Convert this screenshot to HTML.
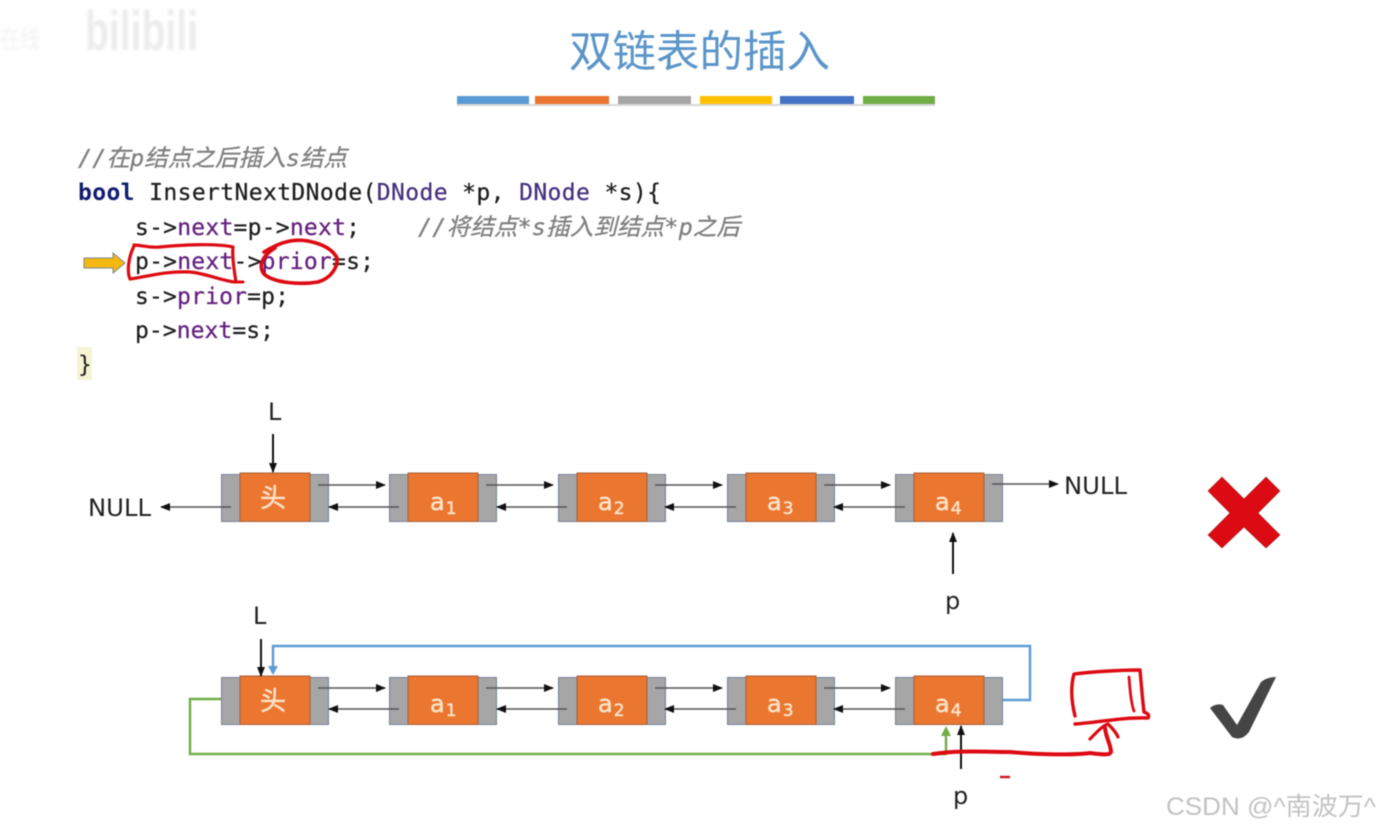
<!DOCTYPE html>
<html><head><meta charset="utf-8"><style>
html,body{margin:0;padding:0;background:#fff;width:1381px;height:828px;overflow:hidden}
svg{display:block;filter:blur(.5px)}
.code{font-family:"DejaVu Sans Mono","Noto Sans CJK SC",monospace;font-size:23px;stroke-width:.25px}
.k{fill:#1d1d1f;stroke:#1d1d1f}.pu{fill:#64207f;stroke:#64207f}.cl{fill:#46307f;stroke:#46307f}
.cm{font-family:"DejaVu Sans Mono","Noto Sans CJK SC",monospace;font-size:23.5px;font-style:italic;fill:#7f7f7f;stroke:#7f7f7f;stroke-width:.3px}
.lb{font-family:"DejaVu Sans","Noto Sans CJK SC",sans-serif;font-size:24px;fill:#222}
.nt{font-family:"DejaVu Sans","Noto Sans CJK SC",sans-serif;fill:#fde3c8;stroke:#fde3c8;stroke-width:.5px}
.red{fill:none;stroke:#dd0a12;stroke-linecap:round;stroke-linejoin:round}
</style></head><body>
<svg width="1381" height="828" viewBox="0 0 1381 828" xmlns="http://www.w3.org/2000/svg">
<defs>
<filter id="wm"><feGaussianBlur stdDeviation="1.2"/></filter>
<marker id="ab" markerWidth="10" markerHeight="8" refX="9" refY="4" orient="auto" markerUnits="userSpaceOnUse"><path d="M0 0L10 4L0 8z" fill="#111"/></marker>
<g id="node">
<rect x="0.5" y="0.5" width="107" height="47" fill="#a6a6a6" stroke="#76829a"/>
<rect x="19" y="-1" width="70" height="48.5" fill="#ea7630" stroke="#a5603a"/>
</g>
</defs>

<!-- watermark -->
<text x="85" y="50" font-family="Liberation Sans,sans-serif" font-weight="bold" font-size="56" fill="#ececec" textLength="113" lengthAdjust="spacingAndGlyphs" filter="url(#wm)">bilibili</text>
<text x="0" y="48" font-family="Liberation Sans,Noto Sans CJK SC,sans-serif" font-size="26" fill="#f2f2f2" textLength="40" lengthAdjust="spacingAndGlyphs" filter="url(#wm)">在线</text>

<!-- title -->
<text x="569" y="67" font-family="Noto Sans CJK SC,sans-serif" font-size="43.5" fill="#5b95c9" textLength="261" lengthAdjust="spacingAndGlyphs">双链表的插入</text>
<g>
<rect x="457" y="96" width="72" height="8" fill="#5b9bd5"/>
<rect x="535" y="96" width="74" height="8" fill="#e8742f"/>
<rect x="618" y="96" width="73" height="8" fill="#a5a5a5"/>
<rect x="700" y="96" width="72" height="8" fill="#ffc000"/>
<rect x="780" y="96" width="74" height="8" fill="#4472c4"/>
<rect x="863" y="96" width="72" height="8" fill="#70ad47"/>
<rect x="457" y="104" width="478" height="2" fill="#d8d8d8"/>
</g>

<!-- code -->
<text class="cm" x="78" y="166" textLength="269" lengthAdjust="spacing">//在p结点之后插入s结点</text>
<text class="code" x="78" y="200" xml:space="preserve" textLength="583" lengthAdjust="spacing"><tspan font-weight="bold" fill="#101c6e">bool</tspan><tspan class="k"> InsertNextDNode(</tspan><tspan class="cl">DNode</tspan><tspan class="k"> *p, </tspan><tspan class="cl">DNode</tspan><tspan class="k"> *s){</tspan></text>
<text class="code" x="135" y="235" textLength="225" lengthAdjust="spacing"><tspan class="k">s-&gt;</tspan><tspan class="pu">next</tspan><tspan class="k">=p-&gt;</tspan><tspan class="pu">next</tspan><tspan class="k">;</tspan></text>
<text class="cm" x="418" y="235" textLength="322" lengthAdjust="spacing">//将结点*s插入到结点*p之后</text>
<text class="code" x="135" y="269" textLength="239" lengthAdjust="spacing"><tspan class="k">p-&gt;</tspan><tspan class="pu">next</tspan><tspan class="k">-&gt;</tspan><tspan class="pu">prior</tspan><tspan class="k">=s;</tspan></text>
<text class="code" x="135" y="304" textLength="154" lengthAdjust="spacing"><tspan class="k">s-&gt;</tspan><tspan class="pu">prior</tspan><tspan class="k">=p;</tspan></text>
<text class="code" x="135" y="338" textLength="139" lengthAdjust="spacing"><tspan class="k">p-&gt;</tspan><tspan class="pu">next</tspan><tspan class="k">=s;</tspan></text>
<rect x="77" y="347" width="15" height="33" fill="#f6f3d2"/>
<text class="code" x="78" y="372" fill="#1d1d1f">}</text>

<!-- yellow arrow -->
<path d="M84 258H113V253L125 263L113 273V268H84z" fill="#f5b80f" stroke="#7c8a8c" stroke-width="1"/>

<!-- red annotations code -->
<path class="red" stroke-width="3.2" d="M134 246C128 258 127 272 130 279C150 276 165 271 190 272C205 273 225 282 236 282C234 270 232 255 233 247C215 243 180 245 160 247C150 248 140 245 134 245"/>
<path class="red" stroke-width="3" d="M237 282L243 282"/>
<path class="red" stroke-width="3.6" d="M275 248C262 256 258 266 264 274C274 283 300 285 318 282C332 278 338 266 337 258C330 244 305 238 290 241C280 243 272 247 264 252"/>

<!-- Row 1 -->
<g>
<use href="#node" x="221" y="474"/><use href="#node" x="389" y="474"/><use href="#node" x="558" y="474"/><use href="#node" x="727" y="474"/><use href="#node" x="895" y="474"/>
</g>
<text class="nt" x="260" y="507" font-size="26">头</text>
<text class="nt" x="430" y="510" font-size="24">a<tspan font-size="17" dx="1" dy="4">1</tspan></text>
<text class="nt" x="598" y="510" font-size="24">a<tspan font-size="17" dx="1" dy="4">2</tspan></text>
<text class="nt" x="767" y="510" font-size="24">a<tspan font-size="17" dx="1" dy="4">3</tspan></text>
<text class="nt" x="935" y="510" font-size="24">a<tspan font-size="17" dx="1" dy="4">4</tspan></text>
<g stroke="#555" stroke-width="1.4" fill="none">
<path d="M318 485H385" marker-end="url(#ab)"/><path d="M486 485H553" marker-end="url(#ab)"/><path d="M655 485H722" marker-end="url(#ab)"/><path d="M824 485H890" marker-end="url(#ab)"/>
<path d="M399 507H329" marker-end="url(#ab)"/><path d="M567 507H497" marker-end="url(#ab)"/><path d="M736 507H665" marker-end="url(#ab)"/><path d="M905 507H834" marker-end="url(#ab)"/>
<path d="M231 507H161" marker-end="url(#ab)"/><path d="M992 484H1058" marker-end="url(#ab)"/>
</g>
<text class="lb" x="88" y="516" textLength="63" lengthAdjust="spacingAndGlyphs">NULL</text>
<text class="lb" x="1064" y="494" textLength="63" lengthAdjust="spacingAndGlyphs">NULL</text>
<text class="lb" x="268" y="420">L</text>
<path d="M273 434V472" stroke="#111" stroke-width="2" marker-end="url(#ab)"/>
<path d="M953 574V533" stroke="#111" stroke-width="2" marker-end="url(#ab)"/>
<text class="lb" x="945" y="609">p</text>

<!-- Row 2 connectors behind -->
<path d="M1002 700H1030V646H273V672" fill="none" stroke="#5b9bd5" stroke-width="2.4"/>
<path d="M268 666L273 675L278 666z" fill="#5b9bd5"/>
<path d="M221 699H190V754H946V732" fill="none" stroke="#70ad47" stroke-width="2.4"/>
<path d="M941 736L946 726L951 736z" fill="#70ad47"/>

<use href="#node" x="221" y="677"/><use href="#node" x="389" y="677"/><use href="#node" x="558" y="677"/><use href="#node" x="727" y="677"/><use href="#node" x="895" y="677"/>
<text class="nt" x="260" y="710" font-size="26">头</text>
<text class="nt" x="430" y="712" font-size="24">a<tspan font-size="17" dx="1" dy="4">1</tspan></text>
<text class="nt" x="598" y="712" font-size="24">a<tspan font-size="17" dx="1" dy="4">2</tspan></text>
<text class="nt" x="767" y="712" font-size="24">a<tspan font-size="17" dx="1" dy="4">3</tspan></text>
<text class="nt" x="935" y="712" font-size="24">a<tspan font-size="17" dx="1" dy="4">4</tspan></text>
<g stroke="#555" stroke-width="1.4" fill="none">
<path d="M318 688H385" marker-end="url(#ab)"/><path d="M486 688H553" marker-end="url(#ab)"/><path d="M655 688H722" marker-end="url(#ab)"/><path d="M824 688H890" marker-end="url(#ab)"/>
<path d="M399 709H329" marker-end="url(#ab)"/><path d="M567 709H497" marker-end="url(#ab)"/><path d="M736 709H665" marker-end="url(#ab)"/><path d="M905 709H834" marker-end="url(#ab)"/>
</g>
<text class="lb" x="253" y="624">L</text>
<path d="M261 639V676" stroke="#111" stroke-width="2" marker-end="url(#ab)"/>
<path d="M961 769V726" stroke="#111" stroke-width="2" marker-end="url(#ab)"/>
<text class="lb" x="953" y="804">p</text>

<!-- red annotations bottom -->
<path class="red" stroke-width="4" d="M933 754C960 750 985 752 1010 752C1040 755 1075 755 1090 753C1105 755 1110 755 1111 752C1111 745 1106 738 1105 728"/>
<path class="red" stroke-width="3.2" d="M1090 739C1096 733 1102 726 1108 724C1112 728 1116 732 1118 737"/>
<path class="red" stroke-width="3.4" d="M1075 724C1100 722 1125 717 1148 718C1150 715 1147 713 1144 712C1142 695 1141 680 1140 670C1118 670 1090 672 1074 674C1071 685 1071 700 1075 716"/>
<path class="red" stroke-width="2.8" d="M1129 677C1130 690 1131 703 1134 711"/>
<path d="M1000 777H1010" stroke="#c8141c" stroke-width="2.4"/>

<!-- cross -->
<path d="M1208 491L1222 477L1244 499L1266 477L1280 491L1258 513L1280 535L1266 548L1244 527L1222 548L1208 535L1230 513z" fill="#dc0a12" stroke="#a51e22" stroke-width=".6"/>
<!-- check -->
<path d="M1210 708Q1216 703 1223 705L1237 725L1261 682Q1267 677 1276 677L1249 732Q1241 742 1232 737Z" fill="#454545"/>

<!-- csdn -->
<text x="1166" y="815" font-family="Liberation Sans,Noto Sans CJK SC,sans-serif" font-size="25" fill="#c2c2c2" textLength="210" lengthAdjust="spacingAndGlyphs">CSDN @^南波万^</text>
</svg>
</body></html>
